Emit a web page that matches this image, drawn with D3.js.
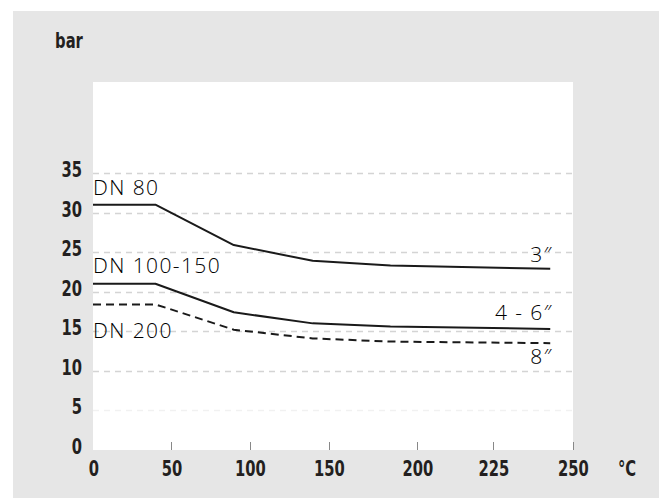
<!DOCTYPE html>
<html><head><meta charset="utf-8">
<script src="https://cdn.jsdelivr.net/npm/d3@7"></script>
<style>
html,body{margin:0;padding:0;background:#fff;}
svg{display:block;}
.tick-label{font-family:"DejaVu Sans Condensed","DejaVu Sans",sans-serif;font-stretch:condensed;font-weight:700;font-size:21px;fill:#231f20;}
.series-label{font-family:"Open Sans",sans-serif;font-weight:300;font-size:21px;letter-spacing:1.4px;fill:#000;}
</style>
</head><body>
<svg id="chart" width="659" height="498"></svg>
<script>
// ---- data ----
const xTicks = [0, 50, 100, 150, 200, 225, 250];
const yTicks = [0, 5, 10, 15, 20, 25, 30, 35];
const temps = [0, 40, 90, 140, 185, 243];
const dn80 = [31, 31, 25.9, 23.9, 23.3, 22.9];
const dn100_150 = [21, 21, 17.4, 16.0, 15.6, 15.3];
const dn200 = [18.4, 18.4, 15.2, 14.1, 13.7, 13.5];
const seriesNames = ["DN 80", "DN 100-150", "DN 200"];
const endLabels = ["3″", "4 - 6″", "8″"];
const yUnit = "bar";
const xUnit = "°C";

// ---- layout ----
const svg = d3.select("#chart");
const plot = {left: 93, right: 573, top: 82, bottom: 450};

svg.append("rect").attr("x", 13).attr("y", 11).attr("width", 659 - 13).attr("height", 498 - 11).attr("fill", "#e6e6e6");
svg.append("rect").attr("x", plot.left).attr("y", plot.top)
  .attr("width", plot.right - plot.left).attr("height", plot.bottom - plot.top).attr("fill", "#fff");

// piecewise x scale (axis is not uniform)
const x = d3.scaleLinear().domain(xTicks).range([93, 171, 249.5, 328.5, 417, 493, 572.5]);
const y = d3.scaleLinear().domain([0, 35]).range([plot.bottom, 173]);

// gridlines
svg.append("g").selectAll("line").data(yTicks.filter(d => d > 0)).join("line")
  .attr("x1", plot.left).attr("x2", plot.right - 1)
  .attr("y1", d => Math.round(y(d)) + 0.5).attr("y2", d => Math.round(y(d)) + 0.5)
  .attr("stroke", d => d === 5 ? "#f1f1f1" : "#d4d4d4")
  .attr("stroke-width", 1.3)
  .attr("stroke-dasharray", "6,5");

// x ticks marks
svg.append("g").selectAll("line").data(xTicks.filter(d => d > 0)).join("line")
  .attr("x1", d => Math.round(x(d)) + 0.5).attr("x2", d => Math.round(x(d)) + 0.5)
  .attr("y1", plot.bottom - 8).attr("y2", plot.bottom)
  .attr("stroke", "#888").attr("stroke-width", 1);

const narrow = sel => sel.each(function() {
  const t = d3.select(this);
  const cx = +t.attr("x"), cy = +t.attr("y");
  t.attr("transform", `translate(${cx},${cy}) scale(0.78,1) translate(${-cx},${-cy})`);
});

// y labels
svg.append("g").selectAll("text").data(yTicks).join("text")
  .attr("class", "tick-label")
  .attr("x", 82).attr("y", d => y(d) + 4)
  .attr("text-anchor", "end")
  .text(d => d).call(narrow);

// x labels
svg.append("g").selectAll("text").data(xTicks).join("text")
  .attr("class", "tick-label")
  .attr("x", d => x(d) + 1).attr("y", 476)
  .attr("text-anchor", "middle")
  .text(d => d).call(narrow);

svg.append("text").attr("class", "tick-label").attr("x", 627).attr("y", 476)
  .attr("text-anchor", "middle").text(xUnit).call(narrow);
svg.append("text").attr("class", "tick-label").attr("x", 69).attr("y", 48)
  .attr("text-anchor", "middle").text(yUnit).call(narrow);

// lines
const line = d3.line().x((d, i) => x(temps[i])).y(d => y(d));
const series = [dn80, dn100_150, dn200];
series.forEach((s, i) => {
  svg.append("path").datum(s).attr("d", line)
    .attr("fill", "none").attr("stroke", "#1a1a1a").attr("stroke-width", 2)
    .attr("stroke-linejoin", "round")
    .attr("stroke-dasharray", i === 2 ? "8,5" : null);
});

// series labels (left)
const leftY = [195, 273, 338];
seriesNames.forEach((n, i) => {
  svg.append("text").attr("class", "series-label").attr("x", 93).attr("y", leftY[i]).text(n);
});
// end labels (right)
const rightY = [262, 320, 364];
endLabels.forEach((n, i) => {
  svg.append("text").attr("class", "series-label").attr("x", 553).attr("y", rightY[i])
    .attr("text-anchor", "end").text(n);
});
</script>
</body></html>
